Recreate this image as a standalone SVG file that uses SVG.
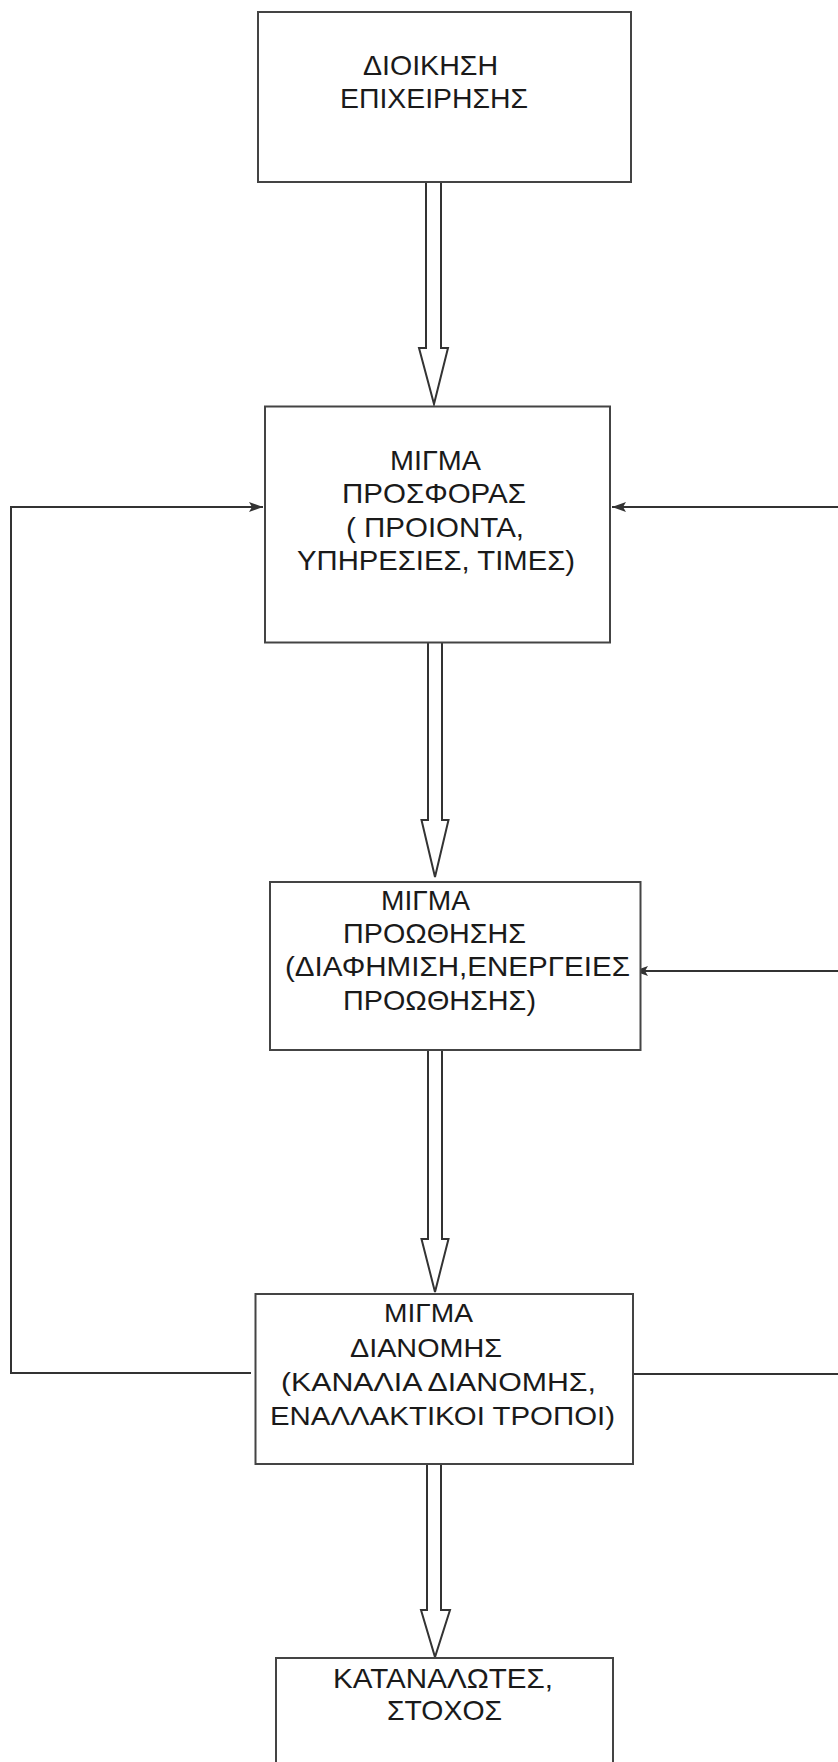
<svg xmlns="http://www.w3.org/2000/svg" width="838" height="1762" viewBox="0 0 838 1762">
<defs>
<style>
.box{fill:#ffffff;stroke:#444;stroke-width:2}
.t{font-family:"Liberation Sans",Arial,sans-serif;font-size:28px;fill:#1a1a1a}
.t4{font-size:25px}
.blk{fill:#ffffff;stroke:#333;stroke-width:2;stroke-linejoin:miter}
.ln{fill:none;stroke:#333;stroke-width:2}
</style>
<marker id="ah" viewBox="0 0 14 10" refX="14" refY="5" markerWidth="14" markerHeight="10" markerUnits="userSpaceOnUse" orient="auto">
<path d="M0,0 L14,5 L0,10 L3,5 Z" fill="#333"/>
</marker>
</defs>
<rect width="838" height="1762" fill="#ffffff"/>
<g id="connectors">
<path class="blk" d="M426,182 V348 H419 L434,404 L448,348 H441 V182"/>
<path class="blk" d="M428,643 V820 H421.5 L435,877 L448.5,820 H442 V643"/>
<path class="blk" d="M428,1050 V1239 H421.5 L435,1292 L448.5,1239 H442 V1050"/>
<path class="blk" d="M427,1464 V1610 H421 L435,1657 L450,1610 H441 V1464"/>
<path class="ln" d="M251,1373 H11 V507 H263" marker-end="url(#ah)"/>
<path class="ln" d="M838,507 H612" marker-end="url(#ah)"/>
<path class="ln" d="M838,971 H634" marker-end="url(#ah)"/>
<path class="ln" d="M633,1374 H838"/>
</g>
<g id="n1">
<rect class="box" x="258" y="12" width="373" height="170"/>
<text class="t" x="363" y="75" textLength="135" lengthAdjust="spacingAndGlyphs">ΔΙΟΙΚΗΣΗ</text>
<text class="t" x="340" y="108" textLength="188" lengthAdjust="spacingAndGlyphs">ΕΠΙΧΕΙΡΗΣΗΣ</text>
</g>
<g id="n2">
<rect class="box" x="265" y="406.5" width="345" height="236"/>
<text class="t" x="390" y="470" textLength="91" lengthAdjust="spacingAndGlyphs">ΜΙΓΜΑ</text>
<text class="t" x="342" y="503" textLength="184" lengthAdjust="spacingAndGlyphs">ΠΡΟΣΦΟΡΑΣ</text>
<text class="t" x="346" y="537" textLength="178" lengthAdjust="spacingAndGlyphs">( ΠΡΟΙΟΝΤΑ,</text>
<text class="t" x="297" y="570" textLength="278" lengthAdjust="spacingAndGlyphs">ΥΠΗΡΕΣΙΕΣ, ΤΙΜΕΣ)</text>
</g>
<g id="n3">
<rect class="box" x="270" y="882" width="370.5" height="168"/>
<text class="t" x="381" y="910" textLength="89" lengthAdjust="spacingAndGlyphs">ΜΙΓΜΑ</text>
<text class="t" x="343" y="943" textLength="183" lengthAdjust="spacingAndGlyphs">ΠΡΟΩΘΗΣΗΣ</text>
<text class="t" x="285" y="976" textLength="345" lengthAdjust="spacingAndGlyphs">(ΔΙΑΦΗΜΙΣΗ,ΕΝΕΡΓΕΙΕΣ</text>
<text class="t" x="343" y="1010" textLength="193" lengthAdjust="spacingAndGlyphs">ΠΡΟΩΘΗΣΗΣ)</text>
</g>
<g id="n4">
<rect class="box" x="255.5" y="1294" width="377.5" height="170"/>
<text class="t t4" x="384" y="1322" textLength="89" lengthAdjust="spacingAndGlyphs">ΜΙΓΜΑ</text>
<text class="t t4" x="350" y="1357" textLength="152" lengthAdjust="spacingAndGlyphs">ΔΙΑΝΟΜΗΣ</text>
<text class="t t4" x="281" y="1391" textLength="315" lengthAdjust="spacingAndGlyphs">(ΚΑΝΑΛΙΑ ΔΙΑΝΟΜΗΣ,</text>
<text class="t t4" x="270" y="1425" textLength="345" lengthAdjust="spacingAndGlyphs">ΕΝΑΛΛΑΚΤΙΚΟΙ ΤΡΟΠΟΙ)</text>
</g>
<g id="n5">
<rect class="box" x="276" y="1658" width="337" height="120"/>
<text class="t" x="333" y="1688" textLength="220" lengthAdjust="spacingAndGlyphs">ΚΑΤΑΝΑΛΩΤΕΣ,</text>
<text class="t" x="387" y="1720" textLength="115" lengthAdjust="spacingAndGlyphs">ΣΤΟΧΟΣ</text>
</g>
</svg>
